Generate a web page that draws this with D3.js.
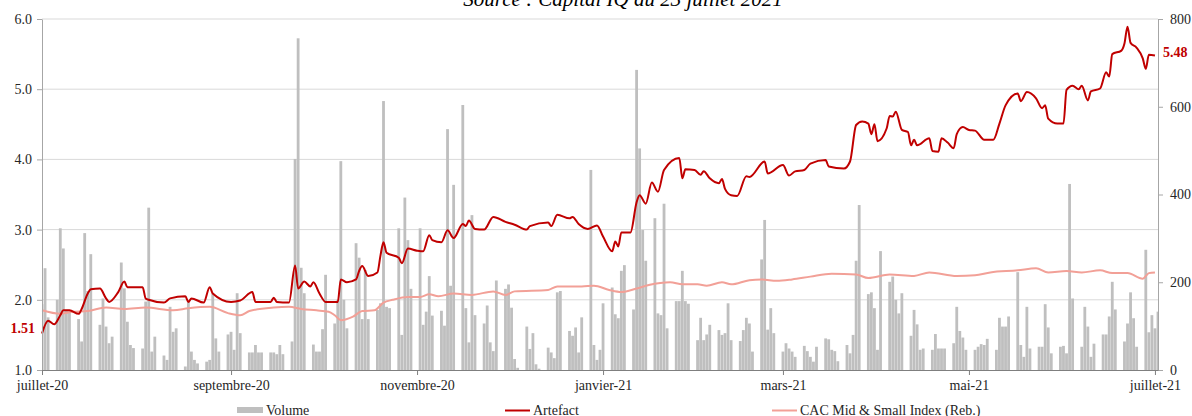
<!DOCTYPE html>
<html>
<head>
<meta charset="utf-8">
<script src="https://d3js.org/d3.v7.min.js"></script>
<style>
body { margin: 0; background: #fff; }
svg text { font-family: "Liberation Serif", "Times New Roman", serif; }
</style>
</head>
<body>
<div id="chart"></div>
<script>
var title = "Source : Capital IQ au 23 juillet 2021";
var seriesNames = ["Volume", "Artefact", "CAC Mid & Small Index (Reb.)"];
var priceTicks = [1, 2, 3, 4, 5, 6];
var volumeTicks = [0, 200, 400, 600, 800];
var monthDates = ["2020-07-01", "2020-09-01", "2020-11-01", "2021-01-01", "2021-03-01", "2021-05-01", "2021-07-01"];
var monthLabels = ["juillet-20", "septembre-20", "novembre-20", "janvier-21", "mars-21", "mai-21", "juillet-21"];
var firstPrice = 1.51;
var lastPrice = 5.48;

// daily volume, one row per week (first row = 1-3 July 2020)
var volume = [
    150, 232, 120,
    160, 323, 277, 137, 133,
    116, 65, 312, 180, 264,
    103, 163, 99, 61, 76,
    245, 186, 110, 57, 50,
    49, 156, 370, 42, 76,
    33, 23, 144, 87, 95,
    8, 156, 42, 23, 15,
    19, 23, 175, 72, 42,
    81, 87, 46, 175, 84,
    40, 40, 57, 40, 40,
    40, 40, 36, 57, 36,
    65, 481, 756, 233, 175,
    58, 42, 42, 93, 217,
    106, 160, 476, 160, 95,
    289, 256, 116, 228, 116,
    137, 152, 613, 144, 141,
    323, 80, 393, 296, 185,
    323, 103, 133, 214, 124,
    135, 101, 549, 192, 422,
    604, 141, 63, 353, 125,
    106, 147, 63, 43, 204,
    185, 195, 142, 25, 5,
    99, 48, 84, 13, 3,
    51, 40, 27, 177, 180,
    89, 78, 97, 40, 120,
    456, 57, 23, 46, 152,
    188, 127, 118, 226, 239,
    138, 684, 505, 319, 249,
    346, 129, 125, 379, 95,
    157, 157, 226, 157, 151,
    68, 119, 68, 81, 103,
    91, 80, 84, 152, 68,
    66, 91, 119, 106, 42,
    252, 342, 92, 141, 84,
    42, 61, 49, 42, 30,
    55, 43, 30, 19, 53,
    72, 70, 46, 43, 20,
    57, 38, 80, 249, 376,
    173, 177, 141, 46, 271,
    201, 213, 160, 129, 175,
    78, 137, 104, 46, 49,
    46, 82, 49, 49, 49,
    61, 144, 89, 74, 46,
    46, 53, 59, 57, 71,
    46, 119, 99, 99, 122,
    223, 57, 30, 144, 49,
    53, 53, 150, 97, 38,
    53, 55, 38, 424, 163,
    53, 144, 99, 30, 60,
    81, 81, 122, 201, 138,
    65, 106, 177, 118, 53,
    274, 86, 125, 95, 133
];

var artefact = [
    ["2020-07-01", 1.52], ["2020-07-03", 1.70], ["2020-07-05", 1.65], ["2020-07-07", 1.78],
    ["2020-07-08", 1.85], ["2020-07-10", 1.85], ["2020-07-13", 1.80], ["2020-07-14", 1.87],
    ["2020-07-16", 2.09], ["2020-07-17", 2.15], ["2020-07-20", 2.16], ["2020-07-22", 2.02],
    ["2020-07-23", 1.97], ["2020-07-26", 2.11], ["2020-07-28", 2.26], ["2020-07-29", 2.18],
    ["2020-08-03", 2.18], ["2020-08-04", 2.02], ["2020-08-05", 2.00], ["2020-08-10", 1.96],
    ["2020-08-12", 2.02], ["2020-08-17", 2.05], ["2020-08-18", 1.97], ["2020-08-19", 2.02],
    ["2020-08-23", 1.96], ["2020-08-25", 2.18], ["2020-08-26", 2.09], ["2020-09-01", 1.97],
    ["2020-09-04", 1.99], ["2020-09-08", 2.11], ["2020-09-09", 1.97], ["2020-09-14", 1.97],
    ["2020-09-15", 2.03], ["2020-09-16", 1.97], ["2020-09-20", 1.96], ["2020-09-22", 2.49],
    ["2020-09-23", 2.16], ["2020-09-25", 2.26], ["2020-09-27", 2.19], ["2020-09-28", 2.25],
    ["2020-09-30", 2.09], ["2020-10-02", 1.97], ["2020-10-06", 1.97], ["2020-10-07", 2.29],
    ["2020-10-09", 2.25], ["2020-10-12", 2.29], ["2020-10-13", 2.41], ["2020-10-14", 2.48],
    ["2020-10-16", 2.34], ["2020-10-19", 2.39], ["2020-10-20", 2.63], ["2020-10-21", 2.82],
    ["2020-10-22", 2.67], ["2020-10-26", 2.60], ["2020-10-27", 2.52], ["2020-10-29", 2.73],
    ["2020-11-01", 2.70], ["2020-11-03", 2.69], ["2020-11-05", 2.92], ["2020-11-06", 2.85],
    ["2020-11-09", 2.82], ["2020-11-11", 2.99], ["2020-11-13", 2.88], ["2020-11-16", 3.08],
    ["2020-11-17", 3.05], ["2020-11-18", 3.13], ["2020-11-20", 3.01], ["2020-11-23", 3.00],
    ["2020-11-26", 3.18], ["2020-11-30", 3.11], ["2020-12-03", 3.07], ["2020-12-07", 3.00],
    ["2020-12-08", 3.05], ["2020-12-14", 3.10], ["2020-12-15", 3.05], ["2020-12-17", 3.21],
    ["2020-12-21", 3.16], ["2020-12-22", 3.18], ["2020-12-24", 3.08], ["2020-12-27", 3.01],
    ["2020-12-30", 3.06], ["2021-01-01", 2.90], ["2021-01-04", 2.69], ["2021-01-05", 2.83],
    ["2021-01-06", 2.76], ["2021-01-07", 2.96], ["2021-01-10", 2.96], ["2021-01-12", 3.39],
    ["2021-01-13", 3.49], ["2021-01-15", 3.37], ["2021-01-17", 3.67], ["2021-01-19", 3.54],
    ["2021-01-21", 3.85], ["2021-01-26", 4.02], ["2021-01-27", 3.73], ["2021-01-28", 3.86],
    ["2021-01-31", 3.85], ["2021-02-02", 3.78], ["2021-02-03", 3.83], ["2021-02-05", 3.73],
    ["2021-02-08", 3.66], ["2021-02-09", 3.72], ["2021-02-10", 3.58], ["2021-02-12", 3.49],
    ["2021-02-14", 3.48], ["2021-02-17", 3.76], ["2021-02-18", 3.75], ["2021-02-23", 3.97],
    ["2021-02-24", 3.80], ["2021-03-01", 3.92], ["2021-03-03", 3.77], ["2021-03-05", 3.83],
    ["2021-03-08", 3.85], ["2021-03-10", 3.94], ["2021-03-15", 3.99], ["2021-03-16", 3.90],
    ["2021-03-21", 3.87], ["2021-03-23", 3.97], ["2021-03-25", 4.49], ["2021-03-27", 4.54],
    ["2021-03-29", 4.51], ["2021-03-30", 4.36], ["2021-03-31", 4.50], ["2021-04-01", 4.26],
    ["2021-04-04", 4.44], ["2021-04-05", 4.62], ["2021-04-06", 4.61], ["2021-04-07", 4.68],
    ["2021-04-09", 4.42], ["2021-04-11", 4.39], ["2021-04-12", 4.20], ["2021-04-13", 4.28],
    ["2021-04-14", 4.20], ["2021-04-18", 4.30], ["2021-04-19", 4.12], ["2021-04-21", 4.11],
    ["2021-04-22", 4.30], ["2021-04-24", 4.24], ["2021-04-26", 4.16], ["2021-04-27", 4.36],
    ["2021-04-29", 4.46], ["2021-05-01", 4.42], ["2021-05-03", 4.41], ["2021-05-06", 4.28],
    ["2021-05-09", 4.28], ["2021-05-11", 4.51], ["2021-05-13", 4.77], ["2021-05-17", 4.94],
    ["2021-05-18", 4.83], ["2021-05-20", 4.96], ["2021-05-23", 4.87], ["2021-05-25", 4.73],
    ["2021-05-26", 4.77], ["2021-05-27", 4.58], ["2021-05-30", 4.51], ["2021-06-01", 4.51],
    ["2021-06-02", 4.99], ["2021-06-04", 5.05], ["2021-06-06", 5.00], ["2021-06-07", 5.05],
    ["2021-06-09", 4.84], ["2021-06-10", 4.97], ["2021-06-13", 5.01], ["2021-06-15", 5.24],
    ["2021-06-16", 5.18], ["2021-06-17", 5.50], ["2021-06-20", 5.55], ["2021-06-21", 5.65],
    ["2021-06-22", 5.89], ["2021-06-23", 5.66], ["2021-06-25", 5.59], ["2021-06-27", 5.44],
    ["2021-06-28", 5.29], ["2021-06-29", 5.49], ["2021-07-01", 5.48]
];

var cacIndex = [
    ["2020-07-01", 1.85], ["2020-07-07", 1.80], ["2020-07-11", 1.83], ["2020-07-16", 1.84],
    ["2020-07-22", 1.89], ["2020-07-28", 1.87], ["2020-08-04", 1.89], ["2020-08-13", 1.85],
    ["2020-08-18", 1.88], ["2020-08-25", 1.90], ["2020-08-31", 1.81], ["2020-09-04", 1.78],
    ["2020-09-07", 1.84], ["2020-09-15", 1.89], ["2020-09-20", 1.90], ["2020-09-24", 1.87],
    ["2020-09-29", 1.85], ["2020-10-03", 1.83], ["2020-10-05", 1.78], ["2020-10-07", 1.71],
    ["2020-10-11", 1.76], ["2020-10-14", 1.84], ["2020-10-18", 1.85], ["2020-10-21", 1.96],
    ["2020-10-24", 2.00], ["2020-10-29", 2.04], ["2020-11-02", 2.04], ["2020-11-05", 2.08],
    ["2020-11-08", 2.05], ["2020-11-13", 2.09], ["2020-11-19", 2.07], ["2020-11-26", 2.12],
    ["2020-11-30", 2.07], ["2020-12-03", 2.12], ["2020-12-14", 2.14], ["2020-12-17", 2.19],
    ["2020-12-25", 2.19], ["2020-12-29", 2.20], ["2021-01-03", 2.14], ["2021-01-07", 2.11],
    ["2021-01-12", 2.16], ["2021-01-16", 2.21], ["2021-01-23", 2.25], ["2021-01-27", 2.22],
    ["2021-02-01", 2.22], ["2021-02-04", 2.20], ["2021-02-09", 2.25], ["2021-02-12", 2.22],
    ["2021-02-18", 2.28], ["2021-02-22", 2.29], ["2021-02-27", 2.27], ["2021-03-04", 2.29],
    ["2021-03-10", 2.33], ["2021-03-17", 2.37], ["2021-03-25", 2.36], ["2021-03-29", 2.31],
    ["2021-04-05", 2.36], ["2021-04-13", 2.34], ["2021-04-18", 2.39], ["2021-04-27", 2.34],
    ["2021-05-03", 2.35], ["2021-05-08", 2.39], ["2021-05-17", 2.42], ["2021-05-23", 2.45],
    ["2021-05-27", 2.39], ["2021-06-02", 2.41], ["2021-06-07", 2.39], ["2021-06-13", 2.42],
    ["2021-06-17", 2.38], ["2021-06-22", 2.38], ["2021-06-27", 2.30], ["2021-06-29", 2.38],
    ["2021-07-01", 2.39]
];

var w = 1192;
var h = 416;
var plotLeft = 42, plotRight = 1158, plotTop = 19, plotBottom = 370;
var red = "#c00000";
var pink = "#f2a097";
var grey = "#bfbfbf";

var parse = d3.utcParse("%Y-%m-%d");

// trading days (weekdays) carrying the volume bars
var tradingDays = d3.utcDay.range(parse("2020-07-01"), parse("2021-07-03"))
    .filter(function(d) { return d.getUTCDay() > 0 && d.getUTCDay() < 6; });

var xScale = d3.scaleUtc()
    .domain([parse("2020-07-01"), parse("2021-07-02")])
    .range([plotLeft, plotRight]);

var yPrice = d3.scaleLinear()
    .domain([1, 6])
    .range([plotBottom, plotTop]);

var yVol = d3.scaleLinear()
    .domain([0, 800])
    .range([plotBottom, plotTop]);

var svg = d3.select('#chart')
    .append('svg')
    .attr('width', w)
    .attr('height', h);

svg.append('clipPath')
    .attr('id', 'plot')
    .append('rect')
    .attr('x', plotLeft)
    .attr('y', 0)
    .attr('width', plotRight - plotLeft)
    .attr('height', plotBottom);

// gridlines
svg.append('g')
    .selectAll('line')
    .data(priceTicks.slice(1))
    .enter()
    .append('line')
    .attr('x1', plotLeft)
    .attr('x2', plotRight)
    .attr('y1', function(d) { return yPrice(d); })
    .attr('y2', function(d) { return yPrice(d); })
    .attr('stroke', '#d9d9d9')
    .attr('stroke-width', 1);

// volume bars
var barW = 2.8;
svg.append('g')
    .attr('clip-path', 'url(#plot)')
    .selectAll('rect')
    .data(volume)
    .enter()
    .append('rect')
    .attr('x', function(d, i) { return xScale(tradingDays[i]) - barW / 2; })
    .attr('y', function(d) { return yVol(d); })
    .attr('width', barW)
    .attr('height', function(d) { return plotBottom - yVol(d); })
    .attr('fill', grey);

var line = d3.line()
    .x(function(d) { return xScale(parse(d[0])); })
    .y(function(d) { return yPrice(d[1]); })
    .curve(d3.curveMonotoneX);

svg.append('path')
    .datum(cacIndex)
    .attr('d', line)
    .attr('fill', 'none')
    .attr('stroke', pink)
    .attr('stroke-width', 2);

svg.append('path')
    .datum(artefact)
    .attr('d', line)
    .attr('fill', 'none')
    .attr('stroke', red)
    .attr('stroke-width', 2);

// axes
var styleAxis = function(g, color) {
    g.select('.domain').attr('stroke', color);
    g.selectAll('.tick line').attr('stroke', color);
    g.selectAll('.tick text')
        .attr('fill', '#262626')
        .attr('font-size', '14px')
        .attr('font-family', '"Liberation Serif", "Times New Roman", serif');
};

var leftAxis = svg.append('g')
    .attr('transform', 'translate(' + plotLeft + ',0)')
    .call(d3.axisLeft(yPrice)
        .tickValues(priceTicks)
        .tickFormat(d3.format('.1f'))
        .tickSize(5)
        .tickSizeOuter(0)
        .tickPadding(5));
styleAxis(leftAxis, '#a6a6a6');

var rightAxis = svg.append('g')
    .attr('transform', 'translate(' + plotRight + ',0)')
    .call(d3.axisRight(yVol)
        .tickValues(volumeTicks)
        .tickSize(5)
        .tickSizeOuter(0)
        .tickPadding(7));
styleAxis(rightAxis, '#a6a6a6');

var bottomAxis = svg.append('g')
    .attr('transform', 'translate(0,' + plotBottom + ')')
    .call(d3.axisBottom(xScale)
        .tickValues(monthDates.map(parse))
        .tickFormat(function(d, i) { return monthLabels[i]; })
        .tickSize(5)
        .tickSizeOuter(0)
        .tickPadding(5));
styleAxis(bottomAxis, '#7f7f7f');

// first / last price labels
svg.append('text')
    .text(firstPrice.toFixed(2))
    .attr('x', 35)
    .attr('y', yPrice(firstPrice) - 1)
    .attr('text-anchor', 'end')
    .attr('font-size', '14px')
    .attr('font-weight', 'bold')
    .attr('fill', red);

svg.append('text')
    .text(lastPrice.toFixed(2))
    .attr('x', 1163)
    .attr('y', yPrice(lastPrice) + 1)
    .attr('font-size', '14px')
    .attr('font-weight', 'bold')
    .attr('fill', red);

// title (cut at the top, as in the source image)
svg.append('text')
    .text(title)
    .attr('x', 623)
    .attr('y', 6)
    .attr('text-anchor', 'middle')
    .attr('font-size', '21px')
    .attr('font-style', 'italic')
    .attr('fill', '#000');

// legend
var legendX = [237, 505, 772];
var legend = svg.append('g');
legend.append('rect')
    .attr('x', legendX[0])
    .attr('y', 407)
    .attr('width', 26)
    .attr('height', 6)
    .attr('fill', grey);
legend.append('line')
    .attr('x1', legendX[1]).attr('x2', legendX[1] + 25)
    .attr('y1', 410.5).attr('y2', 410.5)
    .attr('stroke', red).attr('stroke-width', 2);
legend.append('line')
    .attr('x1', legendX[2]).attr('x2', legendX[2] + 25)
    .attr('y1', 410.5).attr('y2', 410.5)
    .attr('stroke', pink).attr('stroke-width', 2);
legend.selectAll('text')
    .data(seriesNames)
    .enter()
    .append('text')
    .text(function(d) { return d; })
    .attr('x', function(d, i) { return legendX[i] + (i == 0 ? 29 : 28); })
    .attr('y', 415)
    .attr('font-size', '14px')
    .attr('fill', '#262626');
</script>
</body>
</html>
